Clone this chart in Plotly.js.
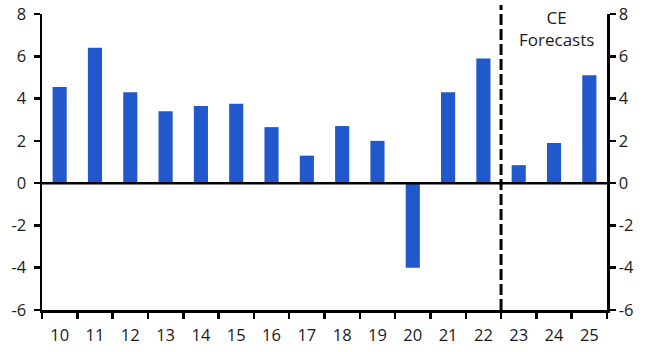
<!DOCTYPE html>
<html>
<head>
<meta charset="utf-8">
<script src="https://cdn.plot.ly/plotly-3.0.1.min.js"></script>
<style>html,body{margin:0;padding:0;background:#fff;}#chart{width:648px;height:352px;}</style>
</head>
<body>
<div id="chart"></div>
<script>
const years = ["10","11","12","13","14","15","16","17","18","19","20","21","22","23","24","25"];
const growth = [4.55, 6.4, 4.3, 3.4, 3.65, 3.75, 2.65, 1.3, 2.7, 2.0, -4.0, 4.3, 5.9, 0.85, 1.9, 5.1];
const yTicks = [-6, -4, -2, 0, 2, 4, 6, 8];
const forecastLabel = "CE<br>Forecasts";

const font = {family: "Open Sans, Noto Sans, sans-serif", size: 16.5, color: "#1a1a1a"};
const annFont = {family: "Open Sans, Noto Sans, sans-serif", size: 17, color: "#1a1a1a"};

const data = [{
  type: "bar",
  x: years,
  y: growth,
  width: 0.4,
  marker: {color: "#2158CC"},
  hoverinfo: "skip"
}, {
  type: "scatter",
  x: years,
  y: growth,
  yaxis: "y2",
  mode: "none",
  showlegend: false,
  hoverinfo: "skip"
}];

const yCommon = {
  range: [-6, 8],
  tickmode: "array",
  tickvals: yTicks,
  ticktext: yTicks.map(String),
  showgrid: false,
  zeroline: false,
  showline: true,
  linecolor: "#000",
  linewidth: 2.5,
  ticks: "outside",
  ticklen: 6,
  tickwidth: 2.5,
  tickcolor: "#000",
  tickfont: font,
  fixedrange: true
};

const layout = {
  width: 648,
  height: 352,
  margin: {l: 42, r: 41, t: 14, b: 42},
  paper_bgcolor: "#fff",
  plot_bgcolor: "#fff",
  showlegend: false,
  font: font,
  xaxis: {
    type: "category",
    tickson: "boundaries",
    showgrid: false,
    zeroline: false,
    showline: true,
    linecolor: "#000",
    linewidth: 2.5,
    ticks: "outside",
    ticklen: 6,
    tickwidth: 2.5,
    tickcolor: "#000",
    tickfont: font,
    ticklabelstandoff: 9,
    range: [-0.5, 15.5],
    fixedrange: true
  },
  yaxis: Object.assign({}, yCommon, {side: "left", ticklabelstandoff: 4}),
  yaxis2: Object.assign({}, yCommon, {side: "right", overlaying: "y"}),
  shapes: [
    {type: "line", xref: "paper", x0: 0, x1: 1, yref: "y", y0: 0, y1: 0,
     line: {color: "#000", width: 2.5}},
    {type: "line", xref: "x", x0: 12.5, x1: 12.5, yref: "paper", y0: 0, y1: 1.03,
     line: {color: "#000", width: 3, dash: "11px,4px"}}
  ],
  annotations: [{
    text: forecastLabel,
    xref: "x", yref: "paper",
    x: 14.08, y: 1.035,
    xanchor: "center", yanchor: "top",
    showarrow: false,
    font: annFont,
    align: "center"
  }]
};

Plotly.newPlot("chart", data, layout, {staticPlot: true, displayModeBar: false});
</script>
</body>
</html>
